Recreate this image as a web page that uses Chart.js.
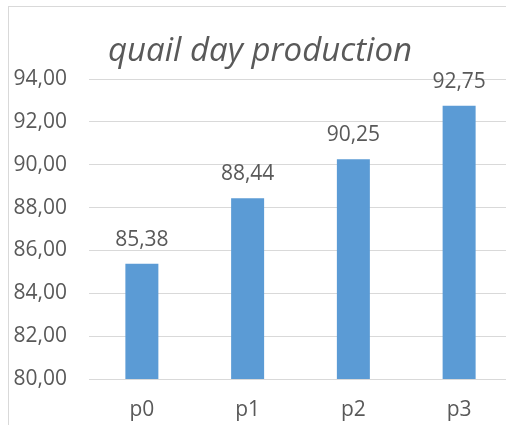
<!DOCTYPE html>
<html>
<head>
<meta charset="utf-8">
<script src="https://cdn.jsdelivr.net/npm/chart.js@4/dist/chart.umd.min.js"></script>
<style>
  body { margin: 0; overflow: hidden; background: #fff; }
  #wrap { position: relative; width: 506px; height: 425px; overflow: hidden; }
  #frame { position: absolute; left: 8px; top: 6px; width: 600px; height: 500px;
           border-left: 1px solid #d9d9d9; border-top: 1px solid #d9d9d9; }
  canvas { position: absolute; left: 0; top: 0; }
</style>
</head>
<body>
<div id="wrap">
  <div id="frame"></div>
  <canvas id="quailChart" width="520" height="425"></canvas>
</div>
<script>
// data
const categories = ['p0', 'p1', 'p2', 'p3'];
const production = [85.38, 88.44, 90.25, 92.75];
const yMin = 80;
const yMax = 94;
const yStep = 2;

const textGrey = '#595959';

function commaNum(v) {
  return v.toFixed(2).replace('.', ',');
}

// value labels over the bars
const valueLabels = {
  id: 'valueLabels',
  afterDatasetsDraw(chart) {
    const ctx = chart.ctx;
    const meta = chart.getDatasetMeta(0);
    ctx.save();
    ctx.font = '21px "Open Sans"';
    ctx.fillStyle = textGrey;
    ctx.textAlign = 'center';
    ctx.textBaseline = 'alphabetic';
    meta.data.forEach((bar, i) => {
      ctx.fillText(commaNum(production[i]), bar.x, bar.y - 18);
    });
    ctx.restore();
  }
};

const ctx = document.getElementById('quailChart').getContext('2d');

const quailChart = new Chart(ctx, {
  type: 'bar',
  data: {
    labels: categories,
    datasets: [{
      data: production,
      backgroundColor: '#5b9bd5',
      borderWidth: 0,
      categoryPercentage: 1,
      barPercentage: 0.312
    }]
  },
  options: {
    responsive: false,
    animation: false,
    layout: {
      padding: { left: 8, right: 8, top: 0, bottom: 0 }
    },
    plugins: {
      legend: { display: false },
      tooltip: { enabled: false },
      title: {
        display: true,
        text: 'quail day production',
        color: textGrey,
        font: { family: 'Open Sans', size: 33, style: 'italic', weight: 'normal', lineHeight: 1.2 },
        padding: { top: 32, bottom: 7.4 }
      }
    },
    scales: {
      x: {
        afterFit(scale) { scale.height = 46; },
        grid: { display: false, drawTicks: false },
        border: { display: false },
        ticks: {
          color: textGrey,
          padding: 18,
          font: { family: 'Open Sans', size: 21 }
        }
      },
      y: {
        min: yMin,
        max: yMax,
        afterFit(scale) { scale.width = 81; },
        grid: { color: '#d9d9d9', lineWidth: 1, drawTicks: false },
        border: { display: false },
        ticks: {
          stepSize: yStep,
          color: textGrey,
          padding: 22,
          font: { family: 'Open Sans', size: 21 },
          callback: v => commaNum(v)
        }
      }
    }
  },
  plugins: [valueLabels]
});
</script>
</body>
</html>
